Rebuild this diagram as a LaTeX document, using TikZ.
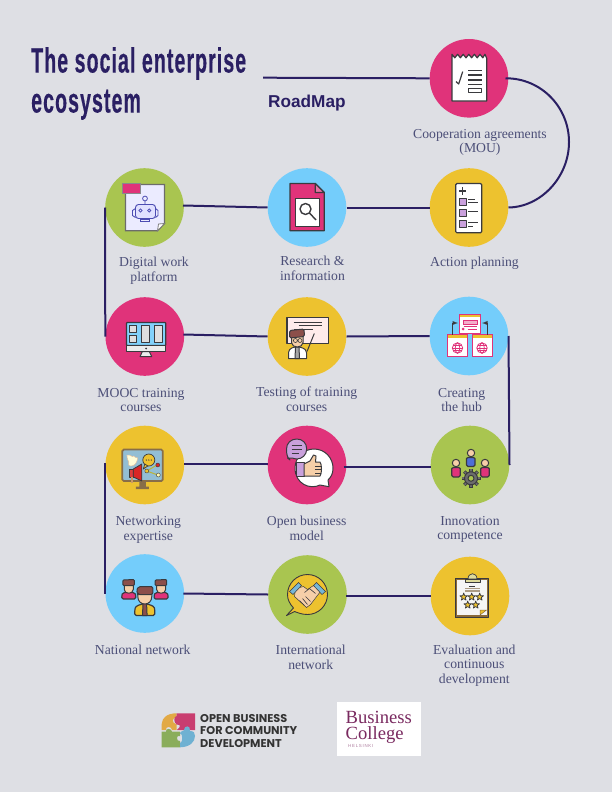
\documentclass[tikz,border=0pt]{standalone}
\usetikzlibrary{calc}
\usepackage{fontspec}
\setmainfont{Liberation Serif}
\newfontfamily\titlefont[FakeStretch=0.56,LetterSpace=3,FakeBold=0.3]{Liberation Sans}
\newfontfamily\roadfont{Liberation Sans}
\newfontfamily\obfont{Poppins}
\definecolor{bgc}{HTML}{DEDFE4}
\definecolor{navy}{HTML}{2A1F63}
\definecolor{lab}{HTML}{4C4F78}
\definecolor{pinkc}{HTML}{E0337A}
\definecolor{greenc}{HTML}{A9C550}
\definecolor{yellowc}{HTML}{EDC22F}
\definecolor{bluec}{HTML}{74CDFB}
\definecolor{icd}{HTML}{3A3A3E}
\definecolor{purp}{HTML}{C9A0DC}
\definecolor{skin}{HTML}{F6CFA8}
\definecolor{hair}{HTML}{8C4F4A}
\definecolor{brownc}{HTML}{8A6A3A}
\definecolor{bcol}{HTML}{7A2A60}
\definecolor{logoO}{HTML}{E2A945}
\definecolor{logoP}{HTML}{C93E70}
\definecolor{logoG}{HTML}{8AAD5B}
\definecolor{logoB}{HTML}{6FB1D2}
\tikzset{
 disc/.style={circle,minimum size=78.6pt,inner sep=0pt,draw=none},
 link/.style={draw=navy,line width=2pt},
 lbl/.style={text=lab,font=\fontsize{13.7}{14.6}\selectfont,align=center,inner sep=0pt},
 ic/.style={draw=icd,line width=1pt,line join=round},
 thin ic/.style={draw=icd,line width=.7pt,line join=round},
}
\newcommand\icstar[2]{\draw[thin ic,fill=yellowc,shift={(#1,#2)}] (0,-4) -- (1,-1.3) -- (3.8,-1.2) -- (1.6,.5) -- (2.4,3.2) -- (0,1.6) -- (-2.4,3.2) -- (-1.6,.5) -- (-3.8,-1.2) -- (-1,-1.3) -- cycle;}
\newcommand\icglobe[2]{\begin{scope}[shift={(#1,#2)},draw=pinkc,line width=.8pt]
 \draw (0,0) circle (5.2); \draw (0,0) ellipse (2.3 and 5.2); \draw (-5.2,0) -- (5.2,0); \draw (-4.5,-2.4) -- (4.5,-2.4); \draw (-4.5,2.4) -- (4.5,2.4);
 \end{scope}}
\newcommand\icwin[4]{\draw[draw=pinkc,line width=1pt,fill=white] (#1,#2) rectangle (#3,#4); \fill[yellowc] (#1+.5,#2+.5) rectangle (#3-.5,#2+3.2);}
\begin{document}
\begin{tikzpicture}[x=1pt,y=-1pt]
\useasboundingbox (0,0) rectangle (612,792);
\fill[bgc] (0,0) rectangle (612,792);
% discs
\node[disc,fill=pinkc] (mou) at (469,78.3) {};
\node[disc,fill=yellowc] (action) at (469,207.5) {};
\node[disc,fill=bluec] (research) at (307,207.5) {};
\node[disc,fill=greenc] (digital) at (144.5,207.5) {};
\node[disc,fill=pinkc] (mooc) at (144.8,336.5) {};
\node[disc,fill=yellowc] (testing) at (307,336.5) {};
\node[disc,fill=bluec] (hub) at (469,336) {};
\node[disc,fill=yellowc] (networking) at (144.8,465) {};
\node[disc,fill=pinkc] (open) at (307,465) {};
\node[disc,fill=greenc] (innov) at (470,465) {};
\node[disc,fill=bluec] (national) at (144.8,593.5) {};
\node[disc,fill=greenc] (intl) at (307.5,594.5) {};
\node[disc,fill=yellowc] (eval) at (470,596) {};
% connectors
\coordinate (rulestart) at (263,77.7);
\draw[link] (rulestart) -- (mou.180);
\draw[link] ($(mou.east)+(-3,0)$) .. controls (541,78) and (569,107) .. (569,142) .. controls (569,177) and (541,207) .. (action.east);
\draw[link] (action.west) -- (research.east);
\draw[link] (research.west) -- ($(digital.east)+(-1,-2)$);
\draw[link] (digital.west) -- (mooc.west);
\draw[link] ($(mooc.east)+(-1,-2)$) -- (testing.west);
\draw[link] (testing.east) -- (hub.west);
\draw[link] (hub.east) -- (innov.east);
\draw[link] ($(open.east)+(-3,2)$) -- ($(innov.west)+(0,2)$);
\draw[link] ($(networking.east)+(0,-1)$) -- ($(open.west)+(0,-1)$);
\draw[link] ($(networking.west)+(0,-2)$) -- (national.west);
\draw[link] ($(national.east)+(-1,0)$) -- (intl.west);
\draw[link] ($(intl.east)+(-1,1.5)$) -- (eval.west);
% title
\node[anchor=north west,inner sep=0pt,align=left,text=navy,font=\titlefont\bfseries\fontsize{35}{40}\selectfont] (title) at (31,47) {The social enterprise\\ecosystem};
\node[anchor=base west,inner sep=0pt,text=navy,font=\roadfont\bfseries\fontsize{17.2}{18}\selectfont] (road) at (268,107) {RoadMap};
% labels
\node[lbl] (l1) at (480,142.5) {Cooperation agreements\\(MOU)};
\node[lbl] (l2) at (474.5,263) {Action planning};
\node[lbl] (l3) at (312.5,268.5) {Research \&\\information};
\node[lbl] (l4) at (154,270.5) {Digital work\\platform};
\node[lbl] (l5) at (141,400) {MOOC training\\courses};
\node[lbl] (l6) at (306.7,399.5) {Testing of training\\courses};
\node[lbl] (l7) at (461.7,400) {Creating\\the hub};
\node[lbl] (l8) at (148.3,529.5) {Networking\\expertise};
\node[lbl] (l9) at (306.7,528.5) {Open business\\model};
\node[lbl] (l10) at (470,529.5) {Innovation\\competence};
\node[lbl] (l11) at (142.7,650) {National network};
\node[lbl] (l12) at (310.7,657.5) {International\\network};
\node[lbl] (l13) at (474.3,665.5) {Evaluation and\\continuous\\development};
% ---- icons
\begin{scope}[shift={(mou.center)}]
 \draw[ic,line width=1.2pt,fill=white] (-17,22.7) -- (-17,-24) -- (-14.2,-20.5) -- (-11.4,-24) -- (-8.6,-20.5) -- (-5.8,-24) -- (-3,-20.5) -- (-.2,-24) -- (2.6,-20.5) -- (5.4,-24) -- (8.2,-20.5) -- (11,-24) -- (13.8,-20.5) -- (16,-24) -- (17.7,-20) -- (17.7,22.7) -- cycle;
 \foreach \yy in {-7.7,-3.3,1.7,6} \draw[icd,line width=1.2pt] (-.6,\yy) -- (12.7,\yy);
 \draw[ic,line width=1.2pt] (-.6,10) rectangle (12.7,14.3);
 \draw[ic,line width=1.2pt] (-13,3.3) -- (-10.3,5.7) -- (-6.3,-6.7);
\end{scope}
\begin{scope}[shift={(action.center)}]
 \draw[ic,line width=1.2pt,fill=white,rounded corners=1.2pt] (-13.3,-24) rectangle (12.7,25.3);
 \draw[icd,line width=1.5pt] (-10,-16.7) -- (-2.6,-16.7) (-6.3,-20.4) -- (-6.3,-13);
 \foreach \yy in {-9.3,2,13.3} \draw[ic,fill=purp] (-9.7,\yy) rectangle (-2.9,\yy+7);
 \draw[icd,line width=1pt] (-.7,-8.5) -- (6,-8.5) (-.7,-5) -- (8.5,-5) (-.7,4) -- (8.5,4) (-.7,15) -- (8.5,15) (-.7,19) -- (4,19);
\end{scope}
\begin{scope}[shift={(research.center)}]
 \draw[ic,line width=1.2pt,fill=pinkc] (-17,-24) -- (8.3,-24) -- (17.3,-15) -- (17.3,23.3) -- (-17,23.3) -- cycle;
 \draw[ic,line width=1.2pt,fill=pinkc!70!white] (8.3,-24) -- (8.3,-15) -- (17.3,-15) -- cycle;
 \draw[ic,line width=1.2pt,fill=white] (-11.3,-9) rectangle (12.3,18.7);
 \draw[ic,line width=1.4pt] (-1.5,1.5) circle (5.5);
 \draw[icd,line width=1.4pt] (2.4,5.4) -- (9,12.5);
\end{scope}
\begin{scope}[shift={(digital.center)}]
 \draw[draw=gray!85!black,line width=1.2pt,fill=white!92!blue] (-19,-23) -- (20,-23) -- (20,16) -- (13,23.3) -- (-19,23.3) -- cycle;
 \draw[draw=gray,line width=.8pt,fill=white] (20,16) -- (14,16.5) -- (13,23.3) -- cycle;
 \draw[draw=icd!60,line width=.7pt,fill=pinkc] (-21.7,-24) rectangle (-4,-13.7);
 \draw[draw=gray!60!blue,line width=.8pt] (.5,-9) circle (2.4) (.5,-6.6) -- (.5,-3);
 \draw[draw=gray!60!blue,line width=.9pt,fill=blue!12!white,rounded corners=3pt] (-9,-3) rectangle (11,11);
 \draw[draw=gray!60!blue,line width=.9pt] (-9,1) -- (-12,3) -- (-12,8) -- (-9,10) (11,1) -- (13.5,3) -- (13.5,8) -- (11,10);
 \draw[draw=gray!60!blue,line width=.8pt] (-4,3) circle (1.6) (4.7,3) circle (1.6);
 \draw[draw=gray!60!blue,line width=.9pt] (-4,11.7) rectangle (5,13.7);
\end{scope}
\begin{scope}[shift={(mooc.center)}]
 \draw[ic,line width=1.2pt,fill=bluec!90!white,rounded corners=.8pt] (-18.3,-14) rectangle (21,9);
 \draw[ic,line width=1.2pt,fill=gray!15] (-18.3,9) rectangle (21,15);
 \fill[icd] (1.3,12) circle (1);
 \draw[ic,fill=gray!15] (-2.5,15) -- (4.5,15) -- (7,20) -- (-4.7,20) -- cycle;
 \draw[ic,fill=gray!25] (-15.7,-11) rectangle (-8,-3.8) (-15.7,-.8) rectangle (-8,6.2) (-3,-11) rectangle (5,6.2) (9.7,-11) rectangle (17.7,6.2);
\end{scope}
\begin{scope}[shift={(testing.center)}]
 \draw[ic,line width=1.2pt,fill=red!8!white] (-20,-19) rectangle (21.3,7);
 \draw[icd,line width=.9pt] (-13.5,-14.3) -- (15,-14.3) (-8.5,-10.7) -- (15,-10.7) (-13.5,-6.7) -- (6,-6.7);
 \draw[icd,line width=1pt] (0,15) -- (7.3,-3);
 \draw[ic,fill=white] (-18.5,22) -- (-18.5,16) .. controls (-18,11) and (-13,11) .. (-10,10) .. controls (-7,11) and (-1,11) .. (-.5,16) -- (-.5,22) -- cycle;
 \draw[ic,fill=gray!70] (-11.5,10.5) -- (-8,10.5) -- (-7.5,22) -- (-12,22) -- cycle;
 \draw[ic,fill=skin] (-15.5,-1) -- (-4,-1) -- (-4,6) .. controls (-4,12) and (-15.5,12) .. (-15.5,6) -- cycle;
 \draw[ic,fill=hair,rounded corners=1.5pt] (-17.5,-6) -- (-3,-7.5) -- (-2.5,0) -- (-17.5,1.5) -- cycle;
 \draw[icd,line width=.6pt] (-11.6,4) circle (2) (-7,4) circle (2);
\end{scope}
\begin{scope}[shift={(hub.center)}]
 \icwin{-9.7}{-22}{11.7}{-2.7}
 \draw[draw=pinkc,fill=pinkc!40!white,line width=.7pt] (-5.5,-15.5) rectangle (8,-12);
 \draw[draw=pinkc,line width=.9pt] (-5.5,-9.5) -- (8,-9.5) (-1.5,-6.5) -- (8,-6.5);
 \fill[pinkc] (-6,-7) circle (1.5);
 \icwin{-21.3}{-1.7}{-1.3}{20.7}
 \icwin{3.3}{-1.7}{23}{20.7}
 \icglobe{-11.5}{12}
 \icglobe{13}{12}
 \draw[draw=icd,line width=.9pt,-latex] (-16.5,-1.5) -- (-16.5,-13) -- (-11,-13);
 \draw[draw=icd,line width=.9pt,-latex] (18,-1.5) -- (18,-13) -- (13,-13);
\end{scope}
\begin{scope}[shift={(networking.center)}]
 \draw[draw=brownc!80!gray,line width=1.7pt,fill=bluec!60!gray!80!white,rounded corners=1.5pt] (-22.5,-15.5) rectangle (18,16);
 \fill[brownc!80!gray] (-5.5,16) rectangle (1,21.5) (-9,21.5) rectangle (4,24);
 \draw[draw=brown!50,line width=.5pt,fill=yellow!15!white] (-18,-10) .. controls (-14,-11) and (-13,-7) .. (-11,-9) .. controls (-10,-9) and (-9,-6) .. (-7,-7) .. controls (-8,-2) and (-10,1) .. (-14,1) .. controls (-15,2) and (-17,0) .. (-16,-3) .. controls (-17,-5) and (-18,-7) .. (-18,-10) -- cycle;
 \draw[ic,line width=.7pt,fill=yellowc] (4,-5) circle (6);
 \draw[thin ic,fill=yellowc] (0,-1) -- (-1.5,4) -- (3,1) -- cycle;
 \foreach \xx in {1.5,4,6.5} \fill[icd] (\xx,-5) circle (.7);
 \draw[ic,line width=.8pt,fill=red!70!gray!90] (-15,4) rectangle (-11.5,12);
 \draw[ic,line width=.8pt,fill=red!70!gray] (-11.5,4) -- (-3,-1) -- (-3,16) -- (-11.5,12) -- cycle;
 \fill[brown!80] (-14,12) rectangle (-11.5,18);
 \draw[draw=yellow!70!black,line width=1pt] (2,6) -- (12,0) (2,6) -- (13,10);
 \draw[draw=icd,line width=.4pt,fill=yellowc] (2,6) circle (2);
 \draw[draw=icd,line width=.4pt,fill=red!70!gray] (13,0) circle (2);
 \draw[draw=icd,line width=.4pt,fill=yellow!30!white] (13.5,10) circle (2);
\end{scope}
\begin{scope}[shift={(open.center)}]
 \draw[ic,fill=white] (13,20) .. controls (3,25) and (-12,19) .. (-12,3) .. controls (-12,-8) and (-3,-16) .. (7,-16) .. controls (18,-16) and (26,-7) .. (26,3) .. controls (26,9) and (24,12) .. (21,15) -- (22,21.7) -- cycle;
 \draw[ic,fill=purp] (-17,-5) .. controls (-20,-8) and (-20.5,-11) .. (-20.5,-16) .. controls (-20.5,-22) and (-16,-26) .. (-10.3,-26) .. controls (-4.5,-26) and (-.3,-22) .. (-.3,-16) .. controls (-.3,-10) and (-5,-6) .. (-10.3,-6) .. controls (-13,-6) and (-14,-7) .. (-14.5,-7) -- (-19.5,-7) -- cycle;
 \draw[icd,line width=1pt] (-15.5,-20) -- (-5.5,-20) (-15.5,-16) -- (-5,-16) (-15.5,-12) -- (-8,-12);
 \draw[ic,fill=purp] (-10.3,-2.7) rectangle (-3,11.7);
 \draw[ic,fill=skin] (-3,-1) -- (3,-4) -- (6.5,-10) -- (9,-9) -- (8.5,-3) -- (13,-3) .. controls (15,-1) and (15,9) .. (13,11) -- (-3,11) -- cycle;
 \draw[icd,line width=.7pt] (8,1) -- (14.5,1) (8,4.5) -- (14.5,4.5) (8,8) -- (14,8);
\end{scope}
\begin{scope}[shift={(innov.center)}]
 \draw[ic,line width=1.2pt,fill=blue!50!bluec!70!gray,rounded corners=1.5pt] (-3.5,1.5) -- (-3.5,-5) .. controls (-3.5,-8) and (5,-8) .. (5,-5) -- (5,1.5) -- cycle;
 \draw[ic,fill=skin] (1,-12) circle (3.7);
 \foreach \xx in {-14,15} {
  \draw[ic,line width=1.2pt,fill=pinkc,rounded corners=1.5pt] (\xx-4.2,12) -- (\xx-4.2,5) .. controls (\xx-4.2,2) and (\xx+4.2,2) .. (\xx+4.2,5) -- (\xx+4.2,12) -- cycle;
  \draw[ic,fill=skin] (\xx,-2) circle (3.7);
 }
 \foreach \a in {0,45,...,315} \draw[icd,line width=3.4pt] (1,13.3) ++(\a:5.5) -- ++(\a:4);
 \foreach \a in {0,45,...,315} \draw[gray!85!black,line width=1.8pt] (1,13.3) ++(\a:6) -- ++(\a:3);
 \draw[ic,fill=gray!85!black] (1,13.3) circle (6.5);
 \draw[ic,fill=greenc] (1,13.3) circle (3);
\end{scope}
\begin{scope}[shift={(national.center)}]
 \foreach \xx in {-16,16.3} {
  \draw[ic,line width=1.2pt,fill=pinkc,rounded corners=1.5pt] (\xx-7,5.5) -- (\xx-7,2) .. controls (\xx-6,-2) and (\xx+6,-2) .. (\xx+7,2) -- (\xx+7,5.5) -- cycle;
  \draw[ic,fill=skin] (\xx-4.5,-9) -- (\xx+4.5,-9) -- (\xx+4.5,-4) .. controls (\xx+4.5,1) and (\xx-4.5,1) .. (\xx-4.5,-4) -- cycle;
  \draw[ic,fill=hair,rounded corners=1pt] (\xx-6,-13.5) -- (\xx+5.5,-14) -- (\xx+5.5,-8) -- (\xx-6,-8) -- cycle;
 }
 \draw[ic,line width=1.2pt,fill=yellowc,rounded corners=1.5pt] (-10,22) -- (-10,16) .. controls (-9,12) and (-4,11) .. (0,10) .. controls (4,11) and (9,12) .. (10,16) -- (10,22) -- cycle;
 \draw[ic,fill=hair] (-1.8,10) -- (1.8,10) -- (2.3,22) -- (-2.3,22) -- cycle;
 \draw[ic,fill=skin] (-7,-2) -- (7,-2) -- (7,3) .. controls (7,13) and (-7,13) .. (-7,3) -- cycle;
 \draw[ic,fill=hair,rounded corners=1.5pt] (-8.5,-3) -- (-6,-7) -- (8,-7) -- (8,1) -- (-7,1) -- (-7,0) -- cycle;
\end{scope}
\begin{scope}[shift={(intl.center)}]
 \draw[ic,line width=.9pt,fill=yellowc] (-14,13.5) .. controls (-18,9) and (-20,5) .. (-20,0) .. controls (-20,-11) and (-11,-20) .. (0,-20) .. controls (11,-20) and (20,-11) .. (20,0) .. controls (20,11) and (11,20) .. (0,20) .. controls (-6,20) and (-10,18) .. (-13,17) -- (-21,21) -- cycle;
 \draw[draw=icd,line width=.5pt,fill=skin] (-12,-6) -- (-4,-8) -- (0,-5) -- (6,-9) -- (13,-3) -- (3,10) -- (-1,13) -- (-13,2) -- cycle;
 \draw[draw=icd,line width=.6pt] (-3,-2) -- (2,-6) -- (8,-1) (-2,2) -- (3,7) (-5,4) -- (0,10) (-8,6) -- (-3,11);
 \draw[draw=icd,line width=.5pt,fill=bluec!70!gray] (-18,-3) -- (-9,-12) -- (-6,-9) -- (-14.5,0) -- cycle;
 \draw[draw=icd,line width=.5pt,fill=bluec!70!gray] (18,-3) -- (9,-12) -- (6,-9) -- (14.5,0) -- cycle;
\end{scope}
\begin{scope}[shift={(eval.center)}]
 \draw[ic,line width=.9pt,fill=brownc] (-14.7,-17.7) rectangle (18.3,21.7);
 \fill[white!92!gray] (-12.7,-15.7) rectangle (16.5,19);
 \draw[ic,fill=gray!50!yellow!60] (-5,-17) -- (10,-17) -- (10,-14) -- (-5,-14) -- cycle;
 \draw[ic,line width=.7pt,fill=gray!50!yellow!60] (-2,-17) .. controls (-2,-24) and (7,-24) .. (7,-17) -- cycle;
 \draw[brownc!70!gray!70,line width=1.5pt] (-5,-7.5) -- (10,-7.5) (-5,-5) -- (10,-5);
 \draw[icd,line width=.8pt] (-1,-9.5) -- (5,-9.5);
 \icstar{-6.3}{1}\icstar{1.7}{1}\icstar{9.7}{1}
 \icstar{-2.3}{9}\icstar{5.7}{9}
 \draw[draw=brownc,line width=.5pt,fill=yellowc] (10,19) -- (10,14) -- (16.5,14) -- cycle;
\end{scope}
% logos
\fill[logoO] (161.7,730) -- (161.7,724) .. controls (162,717) and (168,713.3) .. (176.7,713.3) -- (176.7,718) .. controls (172,717) and (171,723) .. (176.7,724.5) -- (176.7,730) -- (172,730) .. controls (172,726) and (165,726) .. (166,730) -- cycle;
\fill[logoP] (176.7,713.3) -- (195,713.3) -- (195,730) -- (177,730) .. controls (181,726) and (181,725) .. (176.7,724.5) .. controls (173.5,723) and (173.5,716) .. (176.7,716) -- cycle;
\fill[logoG] (161.7,747.3) -- (161.7,731.7) -- (166,731.7) .. controls (165,728) and (172,728) .. (172,731.7) -- (180,731.7) -- (180,736) .. controls (176,734) and (176,742) .. (180,741) -- (180,747.3) -- cycle;
\fill[logoB] (180,747.3) -- (180,743) .. controls (183,743) and (183,733) .. (180,733.5) .. controls (180,731) and (184,731) .. (184,730) .. controls (184,725) and (191,725) .. (190,731) .. controls (194,731) and (195,733) .. (195,736) .. controls (195,742) and (190,747) .. (180,747.3) -- cycle;
\node[anchor=north west,inner sep=0pt,align=left,text=black!80,font=\obfont\bfseries\fontsize{11.3}{12.4}\selectfont] (oblogo) at (200,714) {OPEN BUSINESS\\FOR COMMUNITY\\DEVELOPMENT};
\fill[white] (337,702) rectangle (420.7,755.7);
\node[anchor=north west,inner sep=0pt,align=left,text=bcol,font=\fontsize{18.6}{16.2}\selectfont] (bc1) at (345.5,711) {Business\\College};
\node[anchor=base west,inner sep=0pt,text=bcol!60!white,font=\roadfont\fontsize{4.4}{5}\selectfont] (bc3) at (348,747.5) {H\,E\,L\,S\,I\,N\,K\,I};
\end{tikzpicture}
\end{document}
